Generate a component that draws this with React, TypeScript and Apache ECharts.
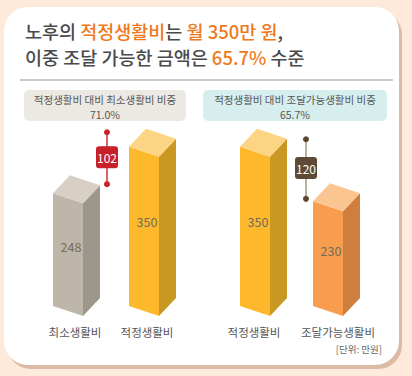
import React, { useEffect, useRef } from "react";
import * as echarts from "echarts";

const leftCategories = ["최소생활비", "적정생활비"];
const leftValues = [248, 350];
const rightCategories = ["적정생활비", "조달가능생활비"];
const rightValues = [350, 230];
const leftRatioTitle = "적정생활비 대비 최소생활비 비중";
const leftRatio = "71.0%";
const rightRatioTitle = "적정생활비 대비 조달가능생활비 비중";
const rightRatio = "65.7%";
const unitText = "[단위: 만원]";

const FONT = '"Noto Sans CJK KR", "Noto Sans", sans-serif';

const palette: Record<string, { front: string; side: string; top: string }> = {
  최소생활비: { front: "#BEB6A9", side: "#9D968B", top: "#D8D0C5" },
  적정생활비: { front: "#FDB92B", side: "#C99822", top: "#FDD384" },
  조달가능생활비: { front: "#F89C4D", side: "#CE7F3F", top: "#FBC592" },
};

function barRender(categories: string[], labelDx: number[]) {
  return (params: any, api: any) => {
    const idx = api.value(0);
    const v = api.value(1);
    const p = api.coord([idx, v]);
    const p0 = api.coord([idx, 0]);
    const c = p[0];
    const y = p[1];
    const y0 = p0[1];
    const col = palette[categories[idx]];
    const ly = api.coord([idx, v * 0.53])[1];
    return {
      type: "group",
      children: [
        {
          type: "polygon",
          shape: { points: [[c - 22, y], [c + 8, y + 10], [c + 8, y0 + 10], [c - 22, y0]] },
          style: { fill: col.front },
        },
        {
          type: "polygon",
          shape: { points: [[c + 8, y + 10], [c + 25, y - 8], [c + 25, y0 - 8], [c + 8, y0 + 10]] },
          style: { fill: col.side },
        },
        {
          type: "polygon",
          shape: { points: [[c - 22, y], [c - 5, y - 18], [c + 25, y - 8], [c + 8, y + 10]] },
          style: { fill: col.top },
        },
        {
          type: "text",
          style: {
            x: c - 4,
            y: ly,
            text: String(v),
            fill: "#736B5E",
            font: `12.5px ${FONT}`,
            align: "center",
            verticalAlign: "middle",
          },
        },
        {
          type: "text",
          style: {
            x: c + labelDx[idx],
            y: y0 + 26,
            text: categories[idx],
            fill: "#555555",
            font: `11.5px ${FONT}`,
            align: "center",
            verticalAlign: "middle",
          },
        },
      ],
    };
  };
}

function markerRender(opts: {
  dx: number;
  offTop: number;
  offBot: number;
  line: string;
  lineWidth: number;
  dot: string;
  box: string;
}) {
  return (params: any, api: any) => {
    const low = api.value(1);
    const high = api.value(2);
    const c0 = api.coord([0, 0])[0];
    const c1 = api.coord([1, 0])[0];
    const x = (c0 + c1) / 2 + opts.dx;
    const yTop = api.coord([0, high])[1] + opts.offTop;
    const yBot = api.coord([0, low])[1] + opts.offBot;
    const mid = (yTop + yBot) / 2 - 1;
    return {
      type: "group",
      children: [
        {
          type: "line",
          shape: { x1: x, y1: yTop, x2: x, y2: yBot },
          style: { stroke: opts.line, lineWidth: opts.lineWidth },
        },
        { type: "circle", shape: { cx: x, cy: yTop, r: 3 }, style: { fill: opts.dot } },
        { type: "circle", shape: { cx: x, cy: yBot, r: 3 }, style: { fill: opts.dot } },
        {
          type: "rect",
          shape: { x: x - 11, y: mid - 11, width: 22, height: 22, r: 3 },
          style: { fill: opts.box },
        },
        {
          type: "text",
          style: {
            x: x,
            y: mid + 0.5,
            text: String(Math.abs(high - low)),
            fill: "#FFFFFF",
            font: `12px ${FONT}`,
            align: "center",
            verticalAlign: "middle",
          },
        },
      ],
    };
  };
}

export default function App() {
  const ref = useRef<HTMLDivElement>(null);
  useEffect(() => {
    document.body.style.margin = "0";
    if (!ref.current) return;
    const chart = echarts.init(ref.current, null, { renderer: "svg" });
    const axisCommon = {
      axisLine: { show: false },
      axisTick: { show: false },
      axisLabel: { show: false },
      splitLine: { show: false },
    };
    const titleFont = `500 18.5px ${FONT}`;
    const option: any = {
      animation: false,
      backgroundColor: "#FDEADB",
      grid: [
        { left: 37, width: 152, top: 124, height: 182 },
        { left: 225.5, width: 146, top: 124, height: 182 },
      ],
      xAxis: [
        { type: "category", gridIndex: 0, data: leftCategories, ...axisCommon },
        { type: "category", gridIndex: 1, data: rightCategories, ...axisCommon },
      ],
      yAxis: [
        { type: "value", gridIndex: 0, min: 0, max: 400, ...axisCommon },
        { type: "value", gridIndex: 1, min: 0, max: 400, ...axisCommon },
      ],
      graphic: [
        {
          type: "rect",
          shape: { x: 7, y: 11, width: 395, height: 358, r: 24 },
          style: { fill: "#DCBAA5" },
          z: -10,
        },
        {
          type: "rect",
          shape: { x: 4, y: 7, width: 395, height: 358, r: 24 },
          style: { fill: "#FFFFFF" },
          z: -9,
        },
        {
          type: "text",
          x: 25,
          y: 31,
          style: {
            text: "{g|노후의 }{o|적정생활비}{g|는 }{o|월 350만 원}{g|,}",
            verticalAlign: "middle",
            rich: {
              g: { fill: "#4A4A4A", font: titleFont },
              o: { fill: "#F07920", font: titleFont },
            },
          },
        },
        {
          type: "text",
          x: 25,
          y: 57,
          style: {
            text: "{g|이중 조달 가능한 금액은 }{o|65.7%}{g| 수준}",
            verticalAlign: "middle",
            rich: {
              g: { fill: "#4A4A4A", font: titleFont },
              o: { fill: "#F07920", font: titleFont },
            },
          },
        },
        {
          type: "line",
          shape: { x1: 20, y1: 80, x2: 393, y2: 80 },
          style: { stroke: "#C9C9C9", lineWidth: 2 },
        },
        {
          type: "rect",
          shape: { x: 24, y: 90, width: 162, height: 31, r: 5 },
          style: { fill: "#ECE9E2" },
        },
        {
          type: "text",
          style: {
            x: 105, y: 99.5, text: leftRatioTitle, fill: "#555555",
            font: `10.5px ${FONT}`, align: "center", verticalAlign: "middle",
          },
        },
        {
          type: "text",
          style: {
            x: 105, y: 114, text: leftRatio, fill: "#555555",
            font: `10.5px ${FONT}`, align: "center", verticalAlign: "middle",
          },
        },
        {
          type: "rect",
          shape: { x: 203, y: 90, width: 184, height: 31, r: 5 },
          style: { fill: "#D7EEEF" },
        },
        {
          type: "text",
          style: {
            x: 295, y: 99.5, text: rightRatioTitle, fill: "#555555",
            font: `10.5px ${FONT}`, align: "center", verticalAlign: "middle",
          },
        },
        {
          type: "text",
          style: {
            x: 295, y: 114, text: rightRatio, fill: "#555555",
            font: `10.5px ${FONT}`, align: "center", verticalAlign: "middle",
          },
        },
        {
          type: "text",
          style: {
            x: 382, y: 349, text: unitText, fill: "#666666",
            font: `9.5px ${FONT}`, align: "right", verticalAlign: "middle",
          },
        },
      ],
      series: [
        {
          type: "custom",
          xAxisIndex: 0,
          yAxisIndex: 0,
          renderItem: barRender(leftCategories, [0, -4]),
          data: leftValues.map((v, i) => [i, v]),
          encode: { x: 0, y: 1 },
        },
        {
          type: "custom",
          xAxisIndex: 1,
          yAxisIndex: 1,
          renderItem: barRender(rightCategories, [-8, 3]),
          data: rightValues.map((v, i) => [i, v]),
          encode: { x: 0, y: 1 },
        },
        {
          type: "custom",
          xAxisIndex: 0,
          yAxisIndex: 0,
          renderItem: markerRender({
            dx: -6, offTop: -14.5, offBot: -9, line: "#C8222C", lineWidth: 1.4,
            dot: "#C8222C", box: "#C6202B",
          }),
          data: [[0, Math.min(...leftValues), Math.max(...leftValues)]],
          encode: { x: 0, y: [1, 2] },
          z: 5,
        },
        {
          type: "custom",
          xAxisIndex: 1,
          yAxisIndex: 1,
          renderItem: markerRender({
            dx: 7.5, offTop: -7.5, offBot: -2.5, line: "#B9AFA3", lineWidth: 2,
            dot: "#5A4632", box: "#5E4B36",
          }),
          data: [[0, Math.min(...rightValues), Math.max(...rightValues)]],
          encode: { x: 0, y: [1, 2] },
          z: 5,
        },
      ],
    };
    chart.setOption(option);
    return () => chart.dispose();
  }, []);
  return <div ref={ref} style={{ width: 412, height: 376 }} />;
}
